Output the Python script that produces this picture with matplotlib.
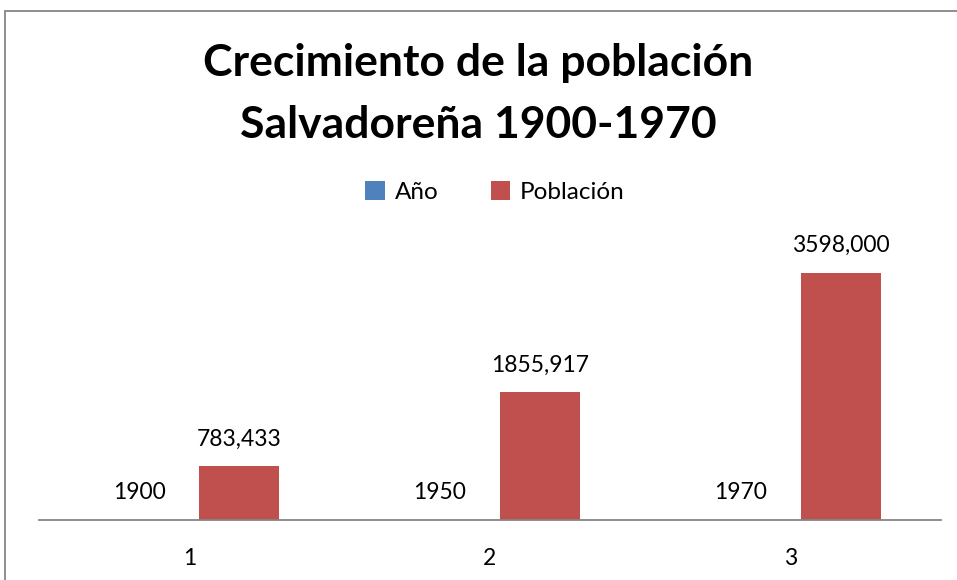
import numpy as np
import matplotlib.pyplot as plt
from matplotlib.patches import Rectangle

plt.rcParams['font.family'] = ['Lato', 'DejaVu Sans']

# data
categorias = ["1", "2", "3"]
anio = [1900, 1950, 1970]
poblacion = [783433, 1855917, 3598000]
etiquetas_anio = ["1900", "1950", "1970"]
etiquetas_pob = ["783,433", "1855,917", "3598,000"]

azul = "#4F81BD"
rojo = "#C0504D"
gris = "#868686"

fig = plt.figure(figsize=(9.57, 5.8), dpi=100)
ax = fig.add_axes([39/957, 1-520/580, (941-39)/957, (520-245)/580])

x = np.arange(len(categorias))
w = 80/300.7
off = 50/300.7
b1 = ax.bar(x - off, anio, w, color=azul, label="Año")
b2 = ax.bar(x + off, poblacion, w, color=rojo, label="Población")

ax.bar_label(b1, labels=etiquetas_anio, padding=12, fontsize=16.5)
ax.bar_label(b2, labels=etiquetas_pob, padding=12, fontsize=16.5)

ax.set_xlim(-0.5, 2.5)
ax.set_ylim(0, 4000000)
ax.set_xticks(x)
ax.set_xticklabels(categorias, fontsize=16.5)
ax.tick_params(axis='x', length=0, pad=20)
ax.set_yticks([])
for s in ['top', 'right', 'left']:
    ax.spines[s].set_visible(False)
ax.spines['bottom'].set_color(gris)
ax.spines['bottom'].set_linewidth(1.3)

fig.text(0.5, 1-63/580, "Crecimiento de la población", ha='center', va='center',
         fontsize=32, fontweight='bold')
fig.text(0.5, 1-125/580, "Salvadoreña 1900-1970", ha='center', va='center',
         fontsize=32, fontweight='bold')

fig.legend(handles=[b1, b2], loc='center', bbox_to_anchor=(495/957, 1-192/580),
           ncol=2, frameon=False, fontsize=17.5, handlelength=0.8, handleheight=0.8,
           handletextpad=0.4, columnspacing=2.15)

# chart area border
fig.patches.append(Rectangle((5/957, -0.1), 1.2, 1.1 - 11/580, transform=fig.transFigure,
                             fill=False, edgecolor=gris, linewidth=1.3))

fig.savefig("out.png", dpi=100)
